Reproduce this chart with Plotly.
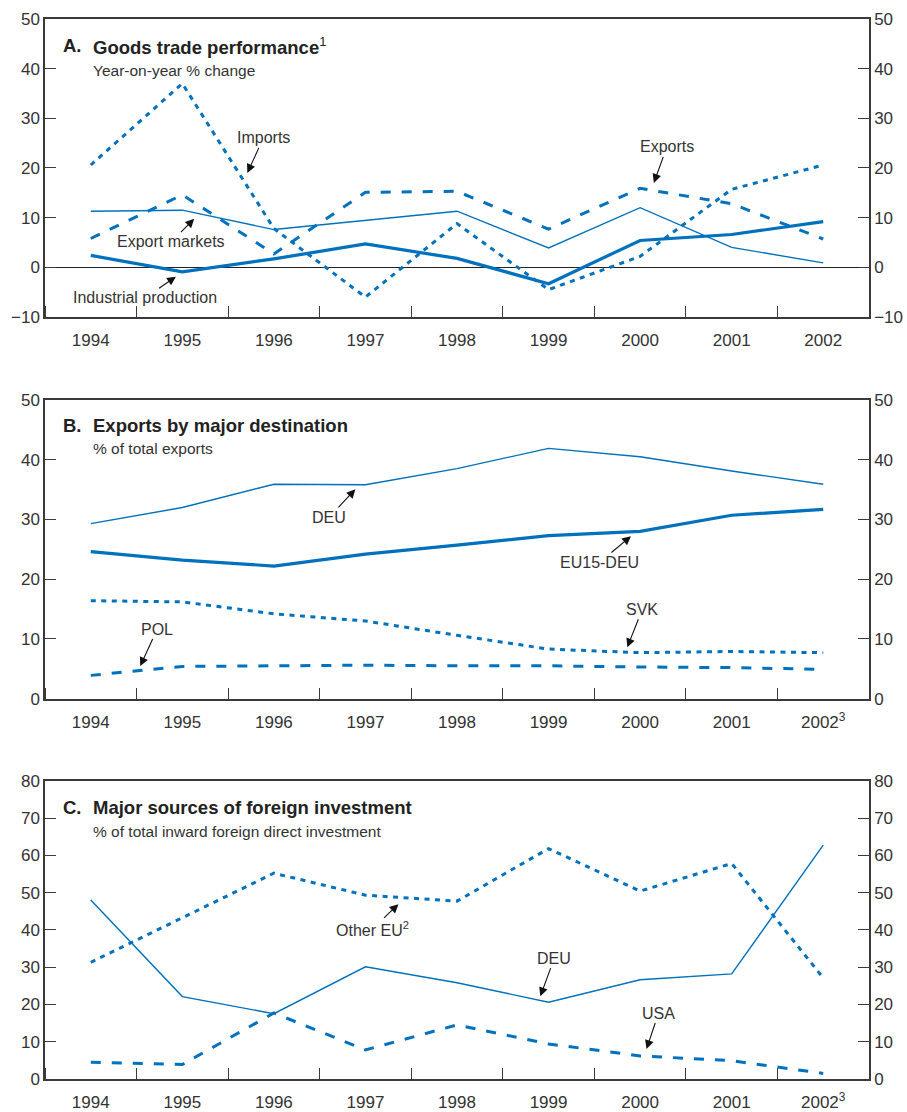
import plotly.graph_objects as go

years = [1994, 1995, 1996, 1997, 1998, 1999, 2000, 2001, 2002]
year_labels_a = ["1994", "1995", "1996", "1997", "1998", "1999", "2000", "2001", "2002"]
year_labels_bc = ["1994", "1995", "1996", "1997", "1998", "1999", "2000", "2001", "2002<sup>3</sup>"]

# Panel A: Goods trade performance, year-on-year % change
imports = [20.6, 37.0, 7.8, -6.0, 8.8, -4.5, 2.2, 15.7, 20.6]
exports = [5.8, 14.6, 2.7, 15.1, 15.3, 7.7, 15.9, 12.8, 5.7]
export_markets = [11.3, 11.5, 7.6, 9.4, 11.3, 3.9, 12.0, 4.0, 0.9]
industrial_production = [2.4, -0.9, 1.7, 4.7, 1.8, -3.3, 5.4, 6.6, 9.2]

# Panel B: Exports by major destination, % of total exports
b_deu = [29.3, 32.0, 35.9, 35.8, 38.5, 41.9, 40.5, 38.1, 35.9]
b_eu15_deu = [24.6, 23.2, 22.2, 24.2, 25.7, 27.3, 28.0, 30.7, 31.7]
b_svk = [16.4, 16.2, 14.2, 13.0, 10.6, 8.3, 7.7, 7.9, 7.7]
b_pol = [3.9, 5.4, 5.5, 5.6, 5.5, 5.5, 5.3, 5.2, 4.9]

# Panel C: Major sources of foreign investment, % of total inward FDI
c_deu = [48.0, 22.1, 17.5, 30.1, 25.8, 20.6, 26.6, 28.2, 62.7]
c_other_eu = [31.3, 43.2, 55.2, 49.3, 47.7, 61.8, 50.4, 57.8, 27.1]
c_usa = [4.5, 3.9, 17.7, 7.8, 14.5, 9.4, 6.2, 4.9, 1.5]

BLUE = "#0071bc"
TXT = "#333333"
AX = "#3a3a3a"
TICKFONT = dict(family="Liberation Sans, Arial, sans-serif", size=17, color=TXT)
LABFONT = dict(family="Liberation Sans, Arial, sans-serif", size=16, color=TXT)
TITLEFONT = dict(family="Liberation Sans, Arial, sans-serif", size=18.5, color="#222222")
SUBFONT = dict(family="Liberation Sans, Arial, sans-serif", size=15.5, color=TXT)

THICK = dict(color=BLUE, width=3.2)
THIN = dict(color=BLUE, width=1.4)
DASHED = dict(color=BLUE, width=3, dash="10px,11px")
DOTTED = dict(color=BLUE, width=3, dash="5px,5.5px")

fig = go.Figure()

def add(i, y_vals, line, name):
    fig.add_trace(go.Scatter(x=years, y=y_vals, mode="lines", line=line, name=name,
                             xaxis=f"x{i}", yaxis=f"y{i}", showlegend=False, hoverinfo="skip"))

add(1, export_markets, THIN, "Export markets")
add(1, industrial_production, THICK, "Industrial production")
add(1, exports, DASHED, "Exports")
add(1, imports, DOTTED, "Imports")

add(2, b_deu, THIN, "DEU")
add(2, b_eu15_deu, THICK, "EU15-DEU")
add(2, b_pol, DASHED, "POL")
add(2, b_svk, DOTTED, "SVK")

add(3, c_deu, THIN, "DEU")
add(3, c_usa, DASHED, "USA")
add(3, c_other_eu, DOTTED, "Other EU")

# invisible traces for the right-hand mirrored axes
for i in (1, 2, 3):
    fig.add_trace(go.Scatter(x=[years[0]], y=[0], mode="markers", marker=dict(opacity=0),
                             xaxis=f"x{i}", yaxis=f"y{i+3}", showlegend=False, hoverinfo="skip"))

domains = {1: [0.7189, 1.0], 2: [0.3588, 0.6406], 3: [0.0, 0.2814]}
ranges = {1: [-10, 50], 2: [0, 50], 3: [0, 80]}
labels = {1: year_labels_a, 2: year_labels_bc, 3: year_labels_bc}

layout = dict(
    width=907, height=1112,
    margin=dict(l=45, r=38, t=19, b=33, autoexpand=False),
    paper_bgcolor="white", plot_bgcolor="white",
    showlegend=False,
)

for i in (1, 2, 3):
    xkey = "xaxis" if i == 1 else f"xaxis{i}"
    layout[xkey] = dict(
        domain=[0, 1], anchor=f"y{i}", range=[1993.5, 2002.5], automargin=False,
        tickmode="array", tickvals=years, ticktext=labels[i], ticks="",
        tickfont=TICKFONT, showgrid=False, zeroline=False,
        showline=True, linecolor=AX, linewidth=1.5, mirror=True,
        minor=dict(tick0=1994.5, dtick=1, ticks="inside", ticklen=11, tickwidth=1.3, tickcolor=AX, showgrid=False),
        ticklabelstandoff=7,
    )
    ykey = "yaxis" if i == 1 else f"yaxis{i}"
    common = dict(
        domain=domains[i], range=ranges[i], tickmode="linear", tick0=0, dtick=10,
        ticks="inside", ticklen=11, tickwidth=1.3, tickcolor=AX, automargin=False,
        tickfont=TICKFONT, showgrid=False,
        showline=True, linecolor=AX, linewidth=1.5,
    )
    layout[ykey] = dict(common, anchor=f"x{i}", side="left",
                        zeroline=(i == 1), zerolinecolor="#222222", zerolinewidth=1.2)
    layout[f"yaxis{i+3}"] = dict(common, anchor=f"x{i}", side="right",
                                 overlaying=f"y{i}", zeroline=False)

fig.update_layout(**layout)

ann = []

def text(i, x, y, s, font=LABFONT, xanchor="center"):
    ann.append(dict(xref=f"x{i}", yref=f"y{i}", x=x, y=y, text=s, showarrow=False,
                    font=font, xanchor=xanchor, yanchor="middle"))

def label(i, x, y, s, ax, ay):
    # arrow head at (x, y); label centred ax, ay pixels away
    ann.append(dict(xref=f"x{i}", yref=f"y{i}", x=x, y=y, ax=ax, ay=ay, text=s,
                    font=LABFONT, showarrow=True, arrowhead=2, arrowsize=1.6, arrowwidth=1.1,
                    arrowcolor="#111111", standoff=0, startstandoff=1, borderpad=0))

# Titles and subtitles
text(1, 1993.67, 44.6, "<b>A.</b>", TITLEFONT, "left")
text(1, 1994.0, 44.6, "<b>Goods trade performance</b><sup>1</sup>", TITLEFONT, "left")
text(1, 1994.0, 39.7, "Year-on-year % change", SUBFONT, "left")
text(2, 1993.67, 45.8, "<b>B.</b>", TITLEFONT, "left")
text(2, 1994.0, 45.8, "<b>Exports by major destination</b>", TITLEFONT, "left")
text(2, 1994.0, 41.8, "% of total exports", SUBFONT, "left")
text(3, 1993.67, 72.95, "<b>C.</b>", TITLEFONT, "left")
text(3, 1994.0, 72.95, "<b>Major sources of foreign investment</b>", TITLEFONT, "left")
text(3, 1994.0, 66.5, "% of total inward foreign direct investment", SUBFONT, "left")

# Panel A labels
label(1, 1995.71, 19.0, "Imports", 16, -35)
label(1, 1995.13, 9.76, "Export markets", -23, 23)
label(1, 1994.93, -1.9, "Industrial production", -31, 21)
label(1, 2000.15, 17.0, "Exports", 13, -36)

# Panel B labels
label(2, 1996.89, 35.06, "DEU", -26, 28)
label(2, 1999.90, 27.2, "EU15-DEU", -31, 26)
label(2, 1999.86, 8.6, "SVK", 15, -38)
label(2, 1994.54, 5.45, "POL", 17, -37)

# Panel C labels
label(3, 1997.36, 46.9, "Other EU<sup>2</sup>", -26, 25)
label(3, 1998.91, 22.2, "DEU", 14, -38)
label(3, 2000.07, 8.04, "USA", 12, -36)

fig.update_layout(annotations=ann)
fig.write_html("out.html")
